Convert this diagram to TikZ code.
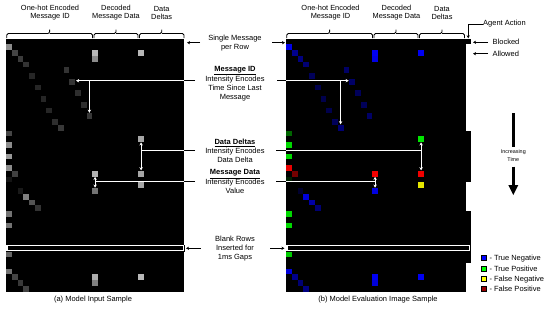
\documentclass[tikz,border=0pt]{standalone}
\usepackage{fontspec}
\setmainfont{Liberation Sans}
\usetikzlibrary{arrows.meta}
\definecolor{tn}{RGB}{0,0,255}
\definecolor{tp}{RGB}{0,255,0}
\definecolor{fn}{RGB}{255,255,0}
\definecolor{fp}{RGB}{150,0,0}
\begin{document}
\begin{tikzpicture}[x=1pt,y=-1pt,
  txt/.style={font=\fontsize{7.5}{8.8}\selectfont, inner sep=0pt, align=center},
  hdr/.style={font=\fontsize{7.4}{8.3}\selectfont, inner sep=0pt, align=center},
  wline/.style={white, line width=1.1pt},
  bline/.style={black, line width=0.9pt},
  wtip/.style={-{Stealth[length=3.2pt,width=3.4pt]}},
  wtips/.style={{Stealth[length=3.2pt,width=3.4pt]}-{Stealth[length=3.2pt,width=3.4pt]}},
  brace/.style={black, line width=0.8pt, rounded corners=1.5pt},
  legbox/.style={draw=black, line width=0.5pt}]
\useasboundingbox (0,0) rectangle (550,311);
\fill[white] (0,0) rectangle (550,311);

% ---------- panels ----------
\fill[black] (6,38.5) rectangle (184.25,291.5);
\fill[black] (286,38.5) rectangle (465.5,291.5);
% agent action column (blocked = black)
\foreach \a/\b in {38.5/44.25,130.5/182.25,211/245.5,251.25/262.75}
  \fill[black] (465,\a) rectangle (470.7,\b);

% ---------- left panel cells ----------
\foreach \c/\r/\g in {0/1/55,1/2/27,2/3/23,3/4/20,10/5/20,4/6/15,11/7/20,5/8/15,12/9/18,6/10/15,
  13/11/18,7/12/15,14/13/22,8/14/18,9/15/22,0/16/27,23/17/65,0/18/55,0/20/60,0/22/55,1/23/25,
  15/23/70,23/23/65,0/24/8,23/25/65,15/26/45,2/26/10,3/27/50,4/28/33,5/29/20,0/30/45,0/32/45,
  0/37/40,0/40/45,1/41/27,2/42/22,3/43/25,15/41/68,15/42/50,23/41/72,15/2/72,15/3/55,23/2/72}
  \fill[white!\g!black] ({6+\c*5.75},{38.5+\r*5.75}) rectangle ++(5.75,5.75);

% ---------- right panel cells ----------
\foreach \c/\r/\k in {0/1/tn!92!black,1/2/tn!55!black,2/3/tn!50!black,3/4/tn!45!black,
  10/5/tn!40!black,4/6/tn!35!black,11/7/tn!40!black,5/8/tn!30!black,12/9/tn!35!black,
  6/10/tn!30!black,13/11/tn!35!black,7/12/tn!30!black,14/13/tn!40!black,8/14/tn!35!black,
  9/15/tn!45!black,0/16/tp!40!black,23/17/tp!90!black,0/18/tp!85!black,0/20/tp!85!black,
  0/22/red!92!black,1/23/red!45!black,15/23/red!95!black,23/23/red!95!black,0/24/tp!12!black,
  23/25/fn!90!black,15/26/tn!88!black,2/26/tn!18!black,3/27/tn!85!black,4/28/tn!65!black,
  5/29/tn!45!black,0/30/tp!85!black,0/32/tp!85!black,0/37/tp!80!black,0/40/tn!85!black,
  1/41/tn!55!black,2/42/tn!45!black,3/43/tn!50!black,15/41/tn!95!black,15/42/tn!85!black,
  23/41/tn!95!black,15/2/tn!95!black,15/3/tn!90!black,23/2/tn!95!black}
  \fill[\k] ({286+\c*5.75},{38.5+\r*5.75}) rectangle ++(5.75,5.75);

% ---------- blank rows ----------
\fill[black] (5.5,244.6) rectangle (185,252);
\draw[white, line width=1.1pt] (7,245.8) rectangle (183.5,250.8);
\fill[black] (285.5,244.6) rectangle (470.8,252);
\draw[white, line width=1.1pt] (287,245.8) rectangle (469.5,250.8);

% ---------- column headers ----------
\node[hdr] (la) at (50,12.9) {One-hot Encoded\\Message ID};
\node[hdr] (lb) at (116,12.9) {Decoded\\Message Data};
\node[hdr] (lc) at (161.7,12.9) {Data\\Deltas};
\node[hdr] (ra) at (330.5,12.9) {One-hot Encoded\\Message ID};
\node[hdr] (rb) at (396.5,12.9) {Decoded\\Message Data};
\node[hdr] (rc) at (442,12.9) {Data\\Deltas};

% braces
\foreach \a/\b in {6.7/92.5,94/138,139.5/184,286.7/372.5,374/418,419.5/464.5}{
  \draw[brace] (\a,38) -- (\a,33.5) -- ({(\a+\b)/2},33.5) -- ({(\a+\b)/2},29.5);
  \draw[brace] ({(\a+\b)/2},33.5) -- (\b,33.5) -- (\b,38);
}

% ---------- middle labels ----------
\node[txt] (smr) at (235,43.3) {Single Message\\per Row};
\node[txt] (mid) at (235,83.4) {\textbf{\underline{Message ID}}\\Intensity Encodes\\Time Since Last\\Message};
\node[txt] (dd) at (235,150.6) {\textbf{\underline{Data Deltas}}\\Intensity Encodes\\Data Delta};
\node[txt] (md) at (235,181.7) {\textbf{\underline{Message Data}}\\Intensity Encodes\\Value};
\node[txt] (br) at (235,248.3) {Blank Rows\\Inserted for\\1ms Gaps};

% single message per row arrows
\coordinate (smrL) at (187,42.7);
\coordinate (smrR) at (285,42.7);
\draw[bline, -{Stealth[length=3pt,width=3.2pt]}] (200,42.7) -- (smrL);
\draw[bline, -{Stealth[length=3pt,width=3.2pt]}] (272,42.7) -- (smrR);
% blank rows arrows
\coordinate (brL) at (186,248.3);
\coordinate (brR) at (284.5,248.3);
\draw[bline, -{Stealth[length=3pt,width=3.2pt]}] (200.7,248.3) -- (brL);
\draw[bline, -{Stealth[length=3pt,width=3.2pt]}] (270,248.3) -- (brR);

% ---------- Message ID annotations ----------
\draw[bline] (195,80.7) -- (184.25,80.7);
\draw[wline, wtip] (184.25,80.7) -- (76,80.7);
\draw[wline, wtip] (89.4,80.7) -- (89.4,112.8);
\draw[bline] (277,80.7) -- (286,80.7);
\draw[wline, wtip] (286,80.7) -- (348.8,80.7);
\draw[wline, wtip] (340.6,80.7) -- (340.6,124.3);

% ---------- Data Deltas annotations ----------
\draw[bline] (195,150.7) -- (184.25,150.7);
\draw[wline] (184.25,150.7) -- (141.1,150.7);
\draw[wline, wtips] (141.1,142.3) -- (141.1,170.4);
\draw[bline] (276,150.7) -- (286,150.7);
\draw[wline] (286,150.7) -- (421.1,150.7);
\draw[wline, wtips] (421.1,142.3) -- (421.1,170.4);

% ---------- Message Data annotations ----------
\draw[bline] (195,181.7) -- (184.25,181.7);
\draw[wline] (184.25,181.7) -- (95.1,181.7);
\draw[wline, wtips] (95.1,176.8) -- (95.1,187.7);
\draw[bline] (276,181.7) -- (286,181.7);
\draw[wline] (286,181.7) -- (375.1,181.7);
\draw[wline, wtips] (375.1,176.8) -- (375.1,187.7);

% ---------- agent action ----------
\node[txt, anchor=west] (aa) at (483,24) {Agent Action};
\node[txt, anchor=west] (bl) at (492.5,42.3) {Blocked};
\node[txt, anchor=west] (al) at (492.5,53.7) {Allowed};
\coordinate (aat) at (468.2,38.3);
\draw[bline, line width=0.8pt, -{Stealth[length=3pt,width=3.2pt]}] (aa.west) -- (468.2,24) -- (aat);
\coordinate (blt) at (473,42.3);
\coordinate (alt) at (473,53.7);
\draw[bline, -{Stealth[length=3pt,width=3.2pt]}] (488,42.3) -- (blt);
\draw[bline, -{Stealth[length=3pt,width=3.2pt]}] (488,53.7) -- (alt);

% ---------- increasing time ----------
\node[font=\fontsize{5.4}{8.3}\selectfont, inner sep=0pt, align=center] (it) at (513.3,155.8) {Increasing\\Time};
\draw[black, line width=2.7pt] (513.3,113.3) -- (513.3,146.7);
\draw[black, line width=2.7pt] (513.3,166.7) -- (513.3,186);
\fill[black] (508.3,185) -- (518.3,185) -- (513.3,195) -- cycle;

% ---------- legend ----------
\foreach \y/\k/\t in {258.2/tn/True Negative,268.5/tp/True Positive,279.2/fn/False Negative,289.2/fp/False Positive}{
  \draw[legbox, fill=\k] (481.7,\y-2.5) rectangle (486.7,\y+2.5);
  \node[txt, anchor=west] at (489.3,\y) {- \t};
}

% ---------- captions ----------
\node[txt] (capa) at (93,300) {(a) Model Input Sample};
\node[txt] (capb) at (378,300) {(b) Model Evaluation Image Sample};
\end{tikzpicture}
\end{document}
